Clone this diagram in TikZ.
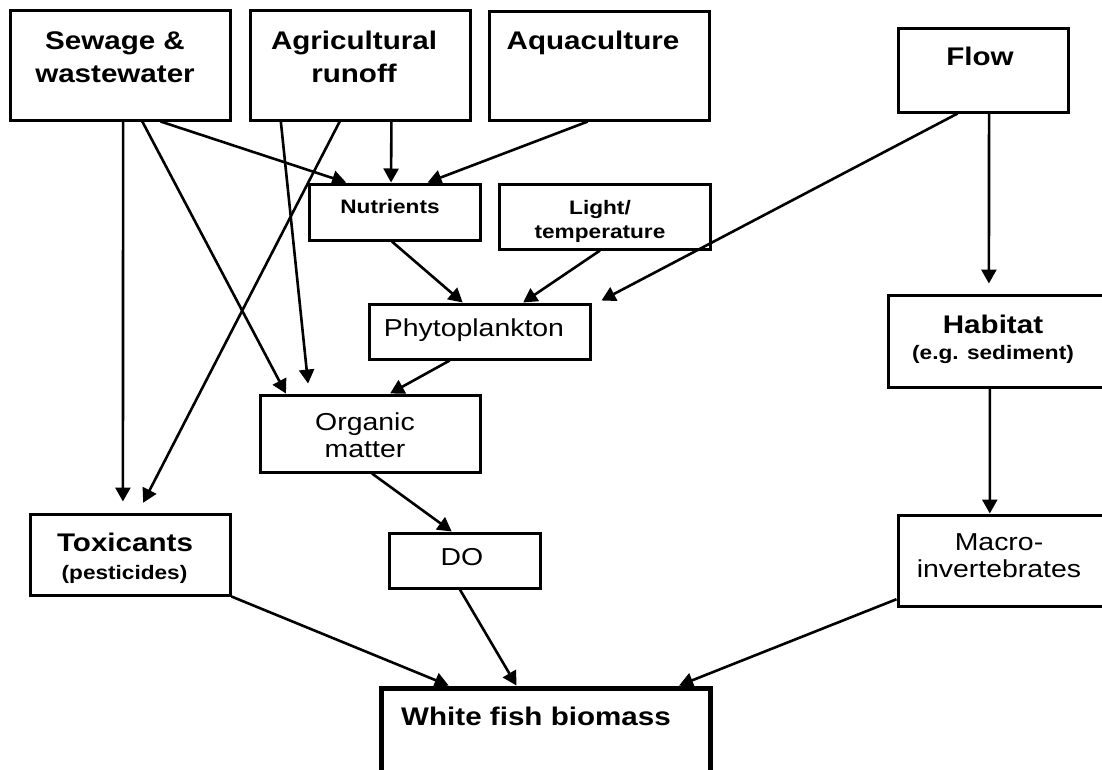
\documentclass[tikz,border=0pt]{standalone}
\usepackage{fontspec}
\setmainfont{Liberation Sans}[FakeStretch=1.16]
\usetikzlibrary{arrows.meta,calc}

\begin{document}
\begin{tikzpicture}[x=1pt,y=-1pt,
  box/.style={draw, line width=3pt, rectangle, inner sep=0pt},
  heavybox/.style={box, line width=5pt},
  link/.style={line width=2.6pt, -{Triangle[length=14pt,width=15pt]}},
  bigtxt/.style={font=\bfseries\fontsize{25.5}{33}\selectfont, align=center,
    inner sep=0pt, text height=18.3pt, text depth=0pt},
  plaintxt/.style={font=\fontsize{24.5}{27.5}\selectfont, align=center,
    inner sep=0pt, text height=17.5pt, text depth=0pt},
  smalltxt/.style={font=\bfseries\fontsize{19.5}{24}\selectfont, align=center,
    inner sep=0pt, text height=14pt, text depth=0pt},
]
\useasboundingbox (0,0) rectangle (1102,769);
\clip (0,0) rectangle (1102,769);
\fill[white] (0,0) rectangle (1102,769);

% boxes
\node[box, minimum width=220pt, minimum height=110pt] (sew) at (120,65) {};
\node[box, minimum width=220pt, minimum height=110pt] (agr) at (360,65) {};
\node[box, minimum width=220pt, minimum height=109pt] (aqu) at (599,65.5) {};
\node[box, minimum width=170pt, minimum height=84pt] (flo) at (983,70) {};
\node[box, minimum width=171pt, minimum height=56pt] (nut) at (394.5,212) {};
\node[box, minimum width=211pt, minimum height=65pt] (lig) at (604.5,216.5) {};
\node[box, minimum width=221pt, minimum height=55pt] (phy) at (479.5,331.5) {};
\node[box, minimum width=224pt, minimum height=92pt] (hab) at (1000,341) {};
\node[box, minimum width=220pt, minimum height=77pt] (org) at (370,433.5) {};
\node[box, minimum width=200pt, minimum height=81pt] (tox) at (130,554.5) {};
\node[box, minimum width=151pt, minimum height=55pt] (dox) at (464.5,560.5) {};
\node[box, minimum width=214pt, minimum height=91pt] (mac) at (1005,560.5) {};
\node[heavybox, minimum width=329pt, minimum height=110pt] (wfb) at (545.5,743) {};

% labels (multi-line labels are placed by their last line)
\node[bigtxt] (sew-t) at (115,73) {Sewage \&\\wastewater};
\node[bigtxt] (agr-t) at (354,73) {Agricultural\\runoff};
\node[bigtxt] (aqu-t) at (593,40) {Aquaculture};
\node[bigtxt] (flo-t) at (980,56) {Flow};
\node[smalltxt] (nut-t) at (390,206) {Nutrients};
\node[smalltxt] (lig-t) at (600,231) {Light/\\temperature};
\node[plaintxt] (phy-t) at (474,327.5) {Phytoplankton};
\node[bigtxt] (hab-t) at (993,324) {Habitat};
\node[smalltxt] (hab-s) at (993,352) {(e.g. sediment)};
\node[plaintxt] (org-t) at (365,449) {Organic\\matter};
\node[bigtxt] (tox-t) at (125,542) {Toxicants};
\node[smalltxt] (tox-s) at (124.5,572) {(pesticides)};
\node[plaintxt] (dox-t) at (462,557) {DO};
\node[plaintxt] (mac-t) at (999,569) {Macro-\\invertebrates};
\node[bigtxt] (wfb-t) at (536,716) {White fish biomass};

% flow marker to the right of phytoplankton
\coordinate (phy-in) at ($(phy.north east)+(10,-2)$);

% connectors
\draw[link, shorten >=11pt] ($(sew.south west)!0.514!(sew.south east)$) -- ($(tox.north west)!0.465!(tox.north east)$);
\draw[link] ($(sew.south west)!0.6!(sew.south east)$) -- ($(org.north west)!0.123!(org.north east)$);
\draw[link] ($(sew.south west)!0.682!(sew.south east)$) -- ($(nut.north west)!0.222!(nut.north east)$);
\draw[link, shorten >=10pt] ($(agr.south west)!0.145!(agr.south east)$) -- ($(org.north west)!0.227!(org.north east)$);
\draw[link, shorten >=11pt] ($(agr.south west)!0.409!(agr.south east)$) -- ($(tox.north west)!0.54!(tox.north east)$);
\draw[link] ($(agr.south west)!0.641!(agr.south east)$) -- ($(nut.north west)!0.48!(nut.north east)$);
\draw[link] ($(aqu.south west)!0.45!(aqu.south east)$) -- ($(nut.north west)!0.69!(nut.north east)$);
\draw[link] ($(flo.south west)!0.353!(flo.south east)$) -- (phy-in);
\draw[link, shorten >=10pt] ($(flo.south west)!0.535!(flo.south east)$) -- ($(hab.north west)!0.451!(hab.north east)$);
\draw[link] ($(nut.south west)!0.485!(nut.south east)$) -- ($(phy.north west)!0.425!(phy.north east)$);
\draw[link] ($(lig.south west)!0.479!(lig.south east)$) -- ($(phy.north west)!0.695!(phy.north east)$);
\draw[link] ($(phy.south west)!0.367!(phy.south east)$) -- ($(org.north west)!0.59!(org.north east)$);
\draw[link] ($(org.south west)!0.509!(org.south east)$) -- ($(dox.north west)!0.417!(dox.north east)$);
\draw[link] ($(hab.south west)!0.455!(hab.south east)$) -- ($(mac.north west)!0.43!(mac.north east)$);
\draw[link] (tox.south east) -- ($(wfb.north west)!0.21!(wfb.north east)$);
\draw[link] ($(dox.south west)!0.47!(dox.south east)$) -- ($(wfb.north west)!0.413!(wfb.north east)$);
\draw[link] ($(mac.north west)!0.912!(mac.south west)$) -- ($(wfb.north west)!0.9!(wfb.north east)$);
\end{tikzpicture}
\end{document}
